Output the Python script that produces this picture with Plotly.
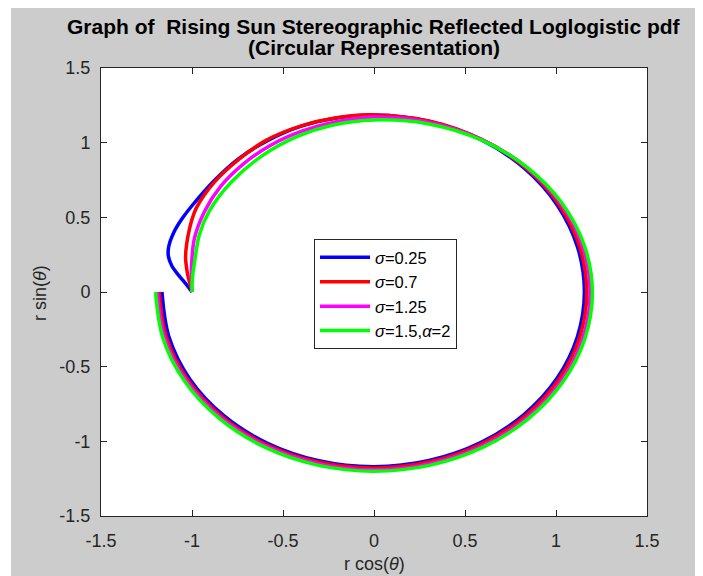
import numpy as np
import plotly.graph_objects as go

# Angles (degrees) and radii
theta_blue = [180, 177, 174, 171, 168, 165, 160, 155, 150, 140, 130, 120, 110, 100, 90, 75, 60, 45, 30, 15, 0,
              -15, -30, -45, -60, -75, -90, -105, -120, -135, -150, -165, -180]
r_blue = [1.0, 1.035, 1.08, 1.125, 1.155, 1.168, 1.17, 1.163, 1.155, 1.152, 1.162, 1.17, 1.18, 1.183, 1.185, 1.182,
          1.177, 1.17, 1.163, 1.158, 1.156, 1.157, 1.16, 1.163, 1.166, 1.168, 1.17, 1.17, 1.17, 1.169, 1.168, 1.166, 1.165]

theta_red = [180, 177, 174, 171, 168, 165, 160, 155, 150, 140, 130, 120, 110, 100, 90, 75, 60, 45, 30, 15, 0,
             -15, -30, -45, -60, -75, -90, -105, -120, -135, -150, -165, -180]
r_red = [1.0, 1.012, 1.028, 1.043, 1.058, 1.07, 1.088, 1.108, 1.127, 1.145, 1.158, 1.176, 1.182, 1.185, 1.186, 1.184,
         1.181, 1.177, 1.173, 1.17, 1.169, 1.17, 1.172, 1.174, 1.176, 1.177, 1.178, 1.179, 1.18, 1.18, 1.18, 1.18, 1.18]

theta_mag = [180, 175, 170, 160, 150, 140, 130, 120, 110, 100, 90, 75, 60, 45, 30, 15, 0,
             -15, -30, -45, -60, -75, -90, -105, -120, -135, -150, -165, -180]
r_mag = [1.0, 1.008, 1.018, 1.05, 1.076, 1.1, 1.118, 1.135, 1.148, 1.16, 1.172, 1.176, 1.18, 1.183, 1.185, 1.186,
         1.187, 1.188, 1.189, 1.19, 1.19, 1.19, 1.19, 1.19, 1.19, 1.19, 1.19, 1.19, 1.19]

theta_green = [180, 175, 168, 158, 149, 137, 124, 112, 102, 90, 75, 60, 45, 30, 15, 0,
               -15, -30, -45, -60, -75, -90, -105, -120, -135, -150, -165, -180]
r_green = [1.0, 1.002, 1.007, 1.034, 1.055, 1.075, 1.1, 1.124, 1.14, 1.152, 1.165, 1.176, 1.185, 1.192, 1.197, 1.2,
           1.2, 1.2, 1.2, 1.2, 1.2, 1.2, 1.2, 1.2, 1.2, 1.2, 1.2, 1.2]

series = [
    ("<i>σ</i>=0.25", theta_blue, r_blue, "#0000ff"),
    ("<i>σ</i>=0.7", theta_red, r_red, "#ff0000"),
    ("<i>σ</i>=1.25", theta_mag, r_mag, "#ff00ff"),
    ("<i>σ</i>=1.5,<i>α</i>=2", theta_green, r_green, "#00ff00"),
]

x_ticks = [-1.5, -1, -0.5, 0, 0.5, 1, 1.5]
y_ticks = [-1.5, -1, -0.5, 0, 0.5, 1, 1.5]

FONT = "Arial, Liberation Sans, Helvetica, sans-serif"
TXT = "#262626"

fig = go.Figure()
for name, th, r, col in series:
    t = np.deg2rad(np.array(th, dtype=float))
    rr = np.array(r, dtype=float)
    fig.add_trace(go.Scatter(
        x=rr * np.cos(t), y=rr * np.sin(t), mode="lines", name=name,
        line=dict(color=col, width=3.5, shape="spline", smoothing=1.0),
    ))

# The page body has an 8px margin (white strip at top/left), so the figure
# is 8px smaller than the window and page pixel p maps to figure pixel p-8.
OFF = 8
W, H = 703 - OFF, 576 - OFF
L, R, T, B = 101 - OFF, 56, 68 - OFF, 60
PW, PH = W - L - R, H - T - B

def px(p):  # page x pixel -> paper coordinate
    return (p - OFF - L) / PW

def py(p):  # page y pixel -> paper coordinate
    return (H - B - (p - OFF)) / PH

axis_common = dict(
    showgrid=False, zeroline=False, showline=True, linecolor=TXT, linewidth=1,
    mirror="ticks", ticks="inside", ticklen=6, tickcolor=TXT, tickwidth=1,
    tickfont=dict(family=FONT, size=18, color=TXT),
)

fig.update_layout(
    width=W, height=H,
    margin=dict(l=L, r=R, t=T, b=B),
    paper_bgcolor="#cccccc",
    plot_bgcolor="#ffffff",
    showlegend=True,
    legend=dict(
        x=px(314), y=py(239), xanchor="left", yanchor="top",
        bgcolor="#ffffff", bordercolor=TXT, borderwidth=1,
        font=dict(family=FONT, size=16.5, color="#000000"),
        itemwidth=50, tracegroupgap=0,
    ),
    xaxis=dict(range=[-1.5, 1.5], tickvals=x_ticks, ticktext=[f"{v:g}" for v in x_ticks],
               ticklabelstandoff=8, **axis_common),
    yaxis=dict(range=[-1.5, 1.5], tickvals=y_ticks, ticktext=[f"{v:g}" for v in y_ticks],
               ticklabelstandoff=6, **axis_common),
)

# extra white strip on the left edge (page x 8..11)
fig.add_shape(type="rect", xref="paper", yref="paper",
              x0=px(8), x1=px(11), y0=py(576), y1=py(8),
              fillcolor="#ffffff", line=dict(width=0), layer="below")

fig.add_annotation(text="<b>Graph of  Rising Sun Stereographic Reflected Loglogistic pdf</b>",
                   xref="paper", yref="paper", x=px(374), y=py(27), xanchor="center", yanchor="middle",
                   showarrow=False, font=dict(family=FONT, size=21, color="#000000"))
fig.add_annotation(text="<b>(Circular Representation)</b>",
                   xref="paper", yref="paper", x=px(374), y=py(48), xanchor="center", yanchor="middle",
                   showarrow=False, font=dict(family=FONT, size=21, color="#000000"))
fig.add_annotation(text="r cos(<i>θ</i>)", xref="paper", yref="paper", x=px(374), y=py(564),
                   xanchor="center", yanchor="middle", showarrow=False,
                   font=dict(family=FONT, size=18, color=TXT))
fig.add_annotation(text="r sin(<i>θ</i>)", xref="paper", yref="paper", x=px(40), y=py(293),
                   xanchor="center", yanchor="middle", showarrow=False, textangle=-90,
                   font=dict(family=FONT, size=18, color=TXT))

fig.write_html("out.html")
